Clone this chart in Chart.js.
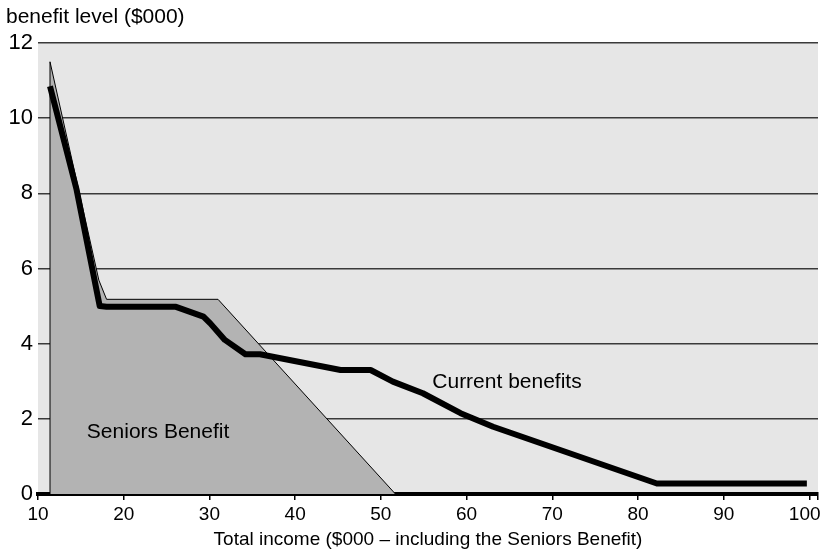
<!DOCTYPE html>
<html>
<head>
<meta charset="utf-8">
<script src="https://cdn.jsdelivr.net/npm/chart.js@4"></script>
<style>
html,body{margin:0;padding:0;background:#fff;}
#wrap{width:823px;height:554px;position:relative;}
</style>
</head>
<body>
<div id="wrap"><canvas id="c" width="823" height="554"></canvas></div>
<script>
// Data
const seniorsX = [11.4, 11.4, 17.1, 18.0, 31.0, 51.7];
const seniorsY = [0, 11.5, 5.69, 5.18, 5.18, 0];
const currentX = [11.4, 14.5, 17.2, 18.0, 26.1, 29.3, 30.1, 31.8, 34.2, 35.9, 45.3, 48.8, 51.4, 54.9, 59.3, 63.1, 82.2, 83.0, 99.7];
const currentY = [10.85, 8.1, 5.0, 4.98, 4.98, 4.72, 4.54, 4.10, 3.72, 3.72, 3.30, 3.30, 2.99, 2.68, 2.15, 1.79, 0.28, 0.28, 0.28];
const xTickValues = [10, 20, 30, 40, 50, 60, 70, 80, 90, 100];
const yTickValues = [0, 2, 4, 6, 8, 10, 12];
const yTitle = 'benefit level ($000)';
const xTitle = 'Total income ($000 \u2013 including the Seniors Benefit)';
const seniorsLabel = 'Seniors Benefit';
const currentLabel = 'Current benefits';

const FONT = "'Liberation Sans', Arial, Helvetica, sans-serif";

const bgPlugin = {
  id: 'bg',
  beforeDraw(chart) {
    const {ctx, chartArea: a} = chart;
    ctx.save();
    ctx.fillStyle = '#e6e6e6';
    ctx.fillRect(a.left, a.top, a.right - a.left, a.bottom - a.top);
    ctx.restore();
  },
  afterDraw(chart) {
    const {ctx} = chart;
    const xs = chart.scales.x, ys = chart.scales.y;
    ctx.save();
    ctx.fillStyle = '#000';
    ctx.font = '21px ' + FONT;
    ctx.textBaseline = 'middle';
    ctx.textAlign = 'left';
    ctx.fillText(yTitle, 6, 17);
    ctx.fillText(seniorsLabel, xs.getPixelForValue(15.7), ys.getPixelForValue(1.65));
    ctx.fillText(currentLabel, xs.getPixelForValue(56.0), ys.getPixelForValue(2.98));
    ctx.restore();
  }
};

new Chart(document.getElementById('c'), {
  type: 'line',
  data: {
    datasets: [
      {
        label: currentLabel,
        data: currentX.map((x, i) => ({x, y: currentY[i]})),
        borderColor: '#000',
        borderWidth: 6,
        borderJoinStyle: 'round',
        pointRadius: 0,
        fill: false,
        tension: 0,
        order: 1
      },
      {
        label: seniorsLabel,
        data: seniorsX.map((x, i) => ({x, y: seniorsY[i]})),
        borderColor: '#000',
        borderWidth: 1,
        backgroundColor: '#b3b3b3',
        pointRadius: 0,
        fill: 'origin',
        tension: 0,
        order: 2
      }
    ]
  },
  options: {
    responsive: false,
    animation: false,
    devicePixelRatio: 1,
    layout: {padding: {top: 43, right: 5, left: 0, bottom: 0}},
    plugins: {legend: {display: false}, tooltip: {enabled: false}},
    scales: {
      x: {
        type: 'linear',
        min: 10,
        max: 101,
        afterBuildTicks(scale) {
          scale.ticks = xTickValues.map(v => ({value: v})).concat([{value: 101}]);
        },
        afterFit(scale) { scale.height = 60; },
        ticks: {
          autoSkip: false,
          maxRotation: 0,
          color: '#000',
          font: {family: FONT, size: 19},
          padding: 3,
          callback: v => (v === 101 ? '' : (v === 100 ? '100\u2002' : String(v)))
        },
        grid: {drawOnChartArea: false, drawTicks: true, tickLength: 6, color: '#000', lineWidth: 1.5},
        border: {display: true, color: '#000', width: 4},
        title: {display: true, text: xTitle, color: '#000', font: {family: FONT, size: 19}, padding: {top: 0, bottom: 3}}
      },
      y: {
        min: 0,
        max: 12,
        afterBuildTicks(scale) {
          scale.ticks = yTickValues.map(v => ({value: v}));
        },
        afterFit(scale) { scale.width = 38; },
        ticks: {color: '#000', font: {family: FONT, size: 22}, padding: 5},
        grid: {drawTicks: false, color: '#3a3a3a', lineWidth: 1.5},
        border: {display: false}
      }
    }
  },
  plugins: [bgPlugin]
});
</script>
</body>
</html>
